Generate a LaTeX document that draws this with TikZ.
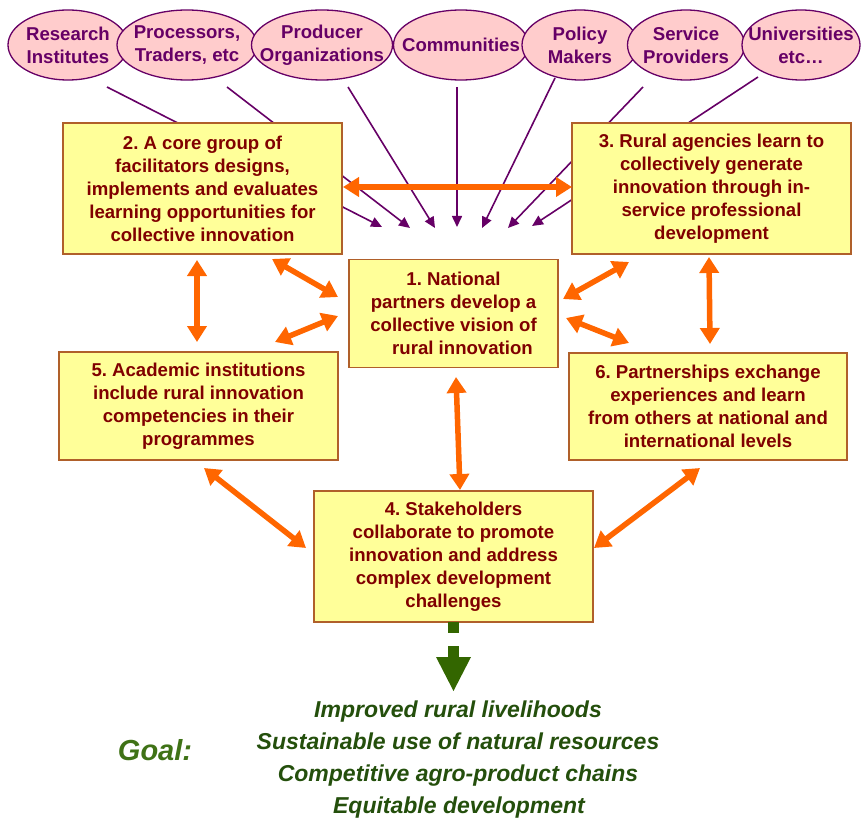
\documentclass[tikz,border=0pt]{standalone}
\usepackage{fontspec}
\setmainfont{Liberation Sans}
\frenchspacing
\usetikzlibrary{shapes.geometric,arrows.meta}
\definecolor{purp}{HTML}{660066}
\definecolor{pinkfill}{HTML}{FFCCCC}
\definecolor{boxfill}{HTML}{FFFF99}
\definecolor{boxline}{HTML}{B0602A}
\definecolor{boxtext}{HTML}{800000}
\definecolor{orng}{HTML}{FF6600}
\definecolor{dgreen}{HTML}{336600}
\definecolor{goalgreen}{HTML}{3F7216}
\definecolor{linegreen}{HTML}{244F0C}
\tikzset{
  actor/.style={ellipse, draw=purp, line width=1.3pt, fill=pinkfill, inner sep=0pt,
    minimum height=70pt},
  actortext/.style={text=purp, align=center, inner sep=0pt,
    font=\bfseries\fontsize{18.6}{23}\selectfont},
  stepbox/.style={rectangle, draw=boxline, line width=1.3pt, fill=boxfill, inner sep=0pt,
    text=boxtext, align=center, font=\bfseries\fontsize{18.6}{23}\selectfont},
  feed/.style={draw=purp, line width=1.6pt, -{Triangle[length=11pt,width=10pt]}},
  link/.style={draw=orng, line width=5.5pt, {Triangle[length=16pt,width=19pt]}-{Triangle[length=16pt,width=19pt]}},
  goalline/.style={text=linegreen, anchor=base, inner sep=0pt, font=\bfseries\itshape\fontsize{23}{28}\selectfont},
}
\begin{document}
\begin{tikzpicture}[x=1pt,y=-1pt]
\path[use as bounding box] (0,0) rectangle (861,818);

% start and end coordinates of stakeholder feeds
\coordinate (s1) at (107,87);  \coordinate (t1) at (382,227);
\coordinate (s2) at (227,87);  \coordinate (t2) at (410,228);
\coordinate (s3) at (348,87);  \coordinate (t3) at (435,228);
\coordinate (s4) at (457,87);  \coordinate (t4) at (457,227);
\coordinate (s5) at (555,78);  \coordinate (t5) at (482,228);
\coordinate (s6) at (643,87);  \coordinate (t6) at (508,228);
\coordinate (s7) at (758,77);  \coordinate (t7) at (532,226);
\foreach \i in {1,...,7} {\draw[feed] (s\i) -- (t\i);}

% stakeholder ellipses
\node[actor, minimum width=120pt] (e1) at (68,45) {};
\node[actor, minimum width=140pt] (e2) at (187,45) {};
\node[actor, minimum width=141pt] (e3) at (322,45) {};
\node[actor, minimum width=135pt] (e4) at (461,45) {};
\node[actor, minimum width=116pt] (e5) at (580,45) {};
\node[actor, minimum width=117pt] (e6) at (686,45) {};
\node[actor, minimum width=118pt] (e7) at (801,45) {};
\node[actortext] (l1) at (e1) {Research\\Institutes};
\node[actortext] (l2) at (e2) {Processors,\\Traders, etc};
\node[actortext] (l3) at (e3) {Producer\\Organizations};
\node[actortext] (l4) at (e4) {Communities};
\node[actortext] (l5) at (e5) {Policy\\Makers};
\node[actortext] (l6) at (e6) {Service\\Providers};
\node[actortext] (l7) at (e7) {Universities\\etc\ldots};

% boxes
\node[stepbox, minimum width=279pt, minimum height=131pt] (b2) at (202.5,188.5)
  {2. A core group of\\facilitators designs,\\implements and evaluates\\learning opportunities for\\collective innovation};
\node[stepbox, minimum width=279pt, minimum height=131pt] (b3) at (711.5,188.5)
  {3. Rural agencies learn to\\collectively generate\\innovation through in-\\service professional\\development};
\node[stepbox, minimum width=209pt, minimum height=108pt] (b1) at (453.5,313.5)
  {1. National\\partners develop a\\collective vision of\\\hspace*{18pt}rural innovation};
\node[stepbox, minimum width=279pt, minimum height=108pt] (b5) at (198.5,406)
  {5. Academic institutions\\include rural innovation\\competencies in their\\programmes};
\node[stepbox, minimum width=278pt, minimum height=107pt] (b6) at (708,406.5)
  {6. Partnerships exchange\\experiences and learn\\from others at national and\\international levels};
\node[stepbox, minimum width=279pt, minimum height=131pt] (b4) at (453.5,556.5)
  {4. Stakeholders\\collaborate to promote\\innovation and address\\complex development\\challenges};

% orange links
\coordinate (a1) at (343,187);   \coordinate (c1) at (572,187);
\coordinate (a2) at (197,260);   \coordinate (c2) at (197,342);
\coordinate (a3) at (272,259);   \coordinate (c3) at (338,297);
\coordinate (a4) at (275,342);   \coordinate (c4) at (338,316);
\coordinate (a5) at (563,299);   \coordinate (c5) at (629,262);
\coordinate (a6) at (566,318);   \coordinate (c6) at (629,343);
\coordinate (a7) at (709,257);   \coordinate (c7) at (710,344);
\coordinate (a8) at (456,377);   \coordinate (c8) at (460,490);
\coordinate (a9) at (204,468);   \coordinate (c9) at (306,548);
\coordinate (a10) at (700,468);  \coordinate (c10) at (594,548);
\foreach \i in {1,...,10} {\draw[link] (a\i) -- (c\i);}

% green arrow to goal
\fill[dgreen] (448,622) rectangle (459,633);
\fill[dgreen] (448,646) rectangle (459,658);
\fill[dgreen] (436,657) -- (471,657) -- (453.5,691) -- cycle;

% goal
\node[text=goalgreen, anchor=base, inner sep=0pt, font=\bfseries\itshape\fontsize{29}{34}\selectfont] (goal) at (155,760) {Goal:};
\node[goalline] (g1) at (458,717) {Improved rural livelihoods};
\node[goalline] (g2) at (458,749) {Sustainable use of natural resources};
\node[goalline] (g3) at (458,781) {Competitive agro-product chains};
\node[goalline] (g4) at (459,813) {Equitable development};
\end{tikzpicture}
\end{document}
